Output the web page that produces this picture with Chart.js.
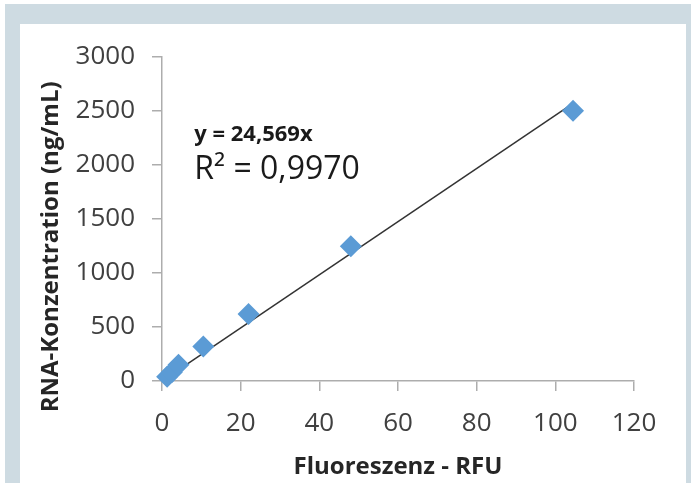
<!DOCTYPE html>
<html lang="de">
<head>
<meta charset="UTF-8">
<title>RNA-Konzentration</title>
<script src="https://cdn.jsdelivr.net/npm/chart.js"></script>
<style>
  body { margin: 0; background: #fff; }
  #frame {
    position: absolute; left: 5px; top: 4px; width: 666px; height: 479px;
    border-left: 15px solid #cedbe2; border-top: 20px solid #cedbe2; border-right: 5px solid #cedbe2;
    background: #fff;
  }
</style>
</head>
<body>
<div id="frame"><canvas id="rnaChart" width="666" height="459"></canvas></div>
<script>
// Messpunkte: Fluoreszenz (RFU) gegen RNA-Konzentration (ng/mL)
const rfu = [1.3, 2.5, 4.2, 10.5, 22, 48, 104.5];
const concentration = [40, 80, 150, 320, 620, 1245, 2500];

// lineare Trendlinie durch den Ursprung (Endpunkte aus dem Bild)
const trendX = [1.3, 104.5];
const trendY = [32, 2567];

const xTicks = [0, 20, 40, 60, 80, 100, 120];
const yTicks = [0, 500, 1000, 1500, 2000, 2500, 3000];

const equationText = 'y = 24,569x';
const r2Text = 'R² = 0,9970';

const axisGrey = '#adadad';
const tickFont = { family: 'Open Sans', size: 26 };

const equationLabel = {
  id: 'equationLabel',
  afterDraw(chart) {
    const { ctx, scales: { x, y } } = chart;
    ctx.save();
    ctx.fillStyle = '#1a1a1a';
    ctx.textAlign = 'left';
    ctx.textBaseline = 'middle';
    ctx.font = 'bold 22px "Open Sans"';
    ctx.fillText(equationText, x.getPixelForValue(8.2), y.getPixelForValue(2280));
    ctx.font = '32px "Open Sans"';
    ctx.fillText(r2Text, x.getPixelForValue(8.2), y.getPixelForValue(1950));
    ctx.restore();
  }
};

new Chart(document.getElementById('rnaChart'), {
  type: 'scatter',
  data: {
    datasets: [
      {
        label: 'Trendlinie',
        type: 'line',
        data: trendX.map((v, i) => ({ x: v, y: trendY[i] })),
        borderColor: '#333333',
        borderWidth: 1.5,
        pointRadius: 0,
        fill: false,
        order: 2
      },
      {
        label: 'RNA',
        data: rfu.map((v, i) => ({ x: v, y: concentration[i] })),
        pointStyle: 'rectRot',
        pointRadius: 11,
        pointHoverRadius: 11,
        backgroundColor: '#5b9bd5',
        borderColor: '#5b9bd5',
        borderWidth: 0,
        clip: false,
        order: 1
      }
    ]
  },
  options: {
    responsive: false,
    animation: false,
    layout: { padding: { top: 30, right: 52, left: 0, bottom: 0 } },
    plugins: { legend: { display: false }, tooltip: { enabled: false } },
    scales: {
      x: {
        type: 'linear',
        min: 0, max: 120,
        afterBuildTicks: s => { s.ticks = xTicks.map(v => ({ value: v })); },
        afterFit: s => { s.height = 102; },
        grid: { drawOnChartArea: false, color: axisGrey, tickLength: 10, lineWidth: 1.5 },
        border: { color: axisGrey, width: 1.5 },
        ticks: { color: '#404040', font: tickFont, padding: 17, callback: v => String(v) },
        title: {
          display: true, text: 'Fluoreszenz - RFU', color: '#262626',
          font: { family: 'Open Sans', size: 24, weight: 'bold' }, padding: { top: 0, bottom: 1 }
        }
      },
      y: {
        type: 'linear',
        min: 0, max: 3000,
        afterBuildTicks: s => { s.ticks = yTicks.map(v => ({ value: v })); },
        afterFit: s => { s.width = 142; },
        grid: { drawOnChartArea: false, color: axisGrey, tickLength: 10, lineWidth: 1.5 },
        border: { color: axisGrey, width: 1.5 },
        ticks: { color: '#404040', font: tickFont, padding: 17, callback: v => String(v) },
        title: {
          display: true, text: 'RNA-Konzentration (ng/mL)\u00a0\u00a0\u00a0\u00a0\u00a0\u00a0\u00a0\u00a0\u00a0', color: '#262626',
          font: { family: 'Open Sans', size: 24, weight: 'bold' }, padding: { top: 17, bottom: 0 }
        }
      }
    }
  },
  plugins: [equationLabel]
});
</script>
</body>
</html>
